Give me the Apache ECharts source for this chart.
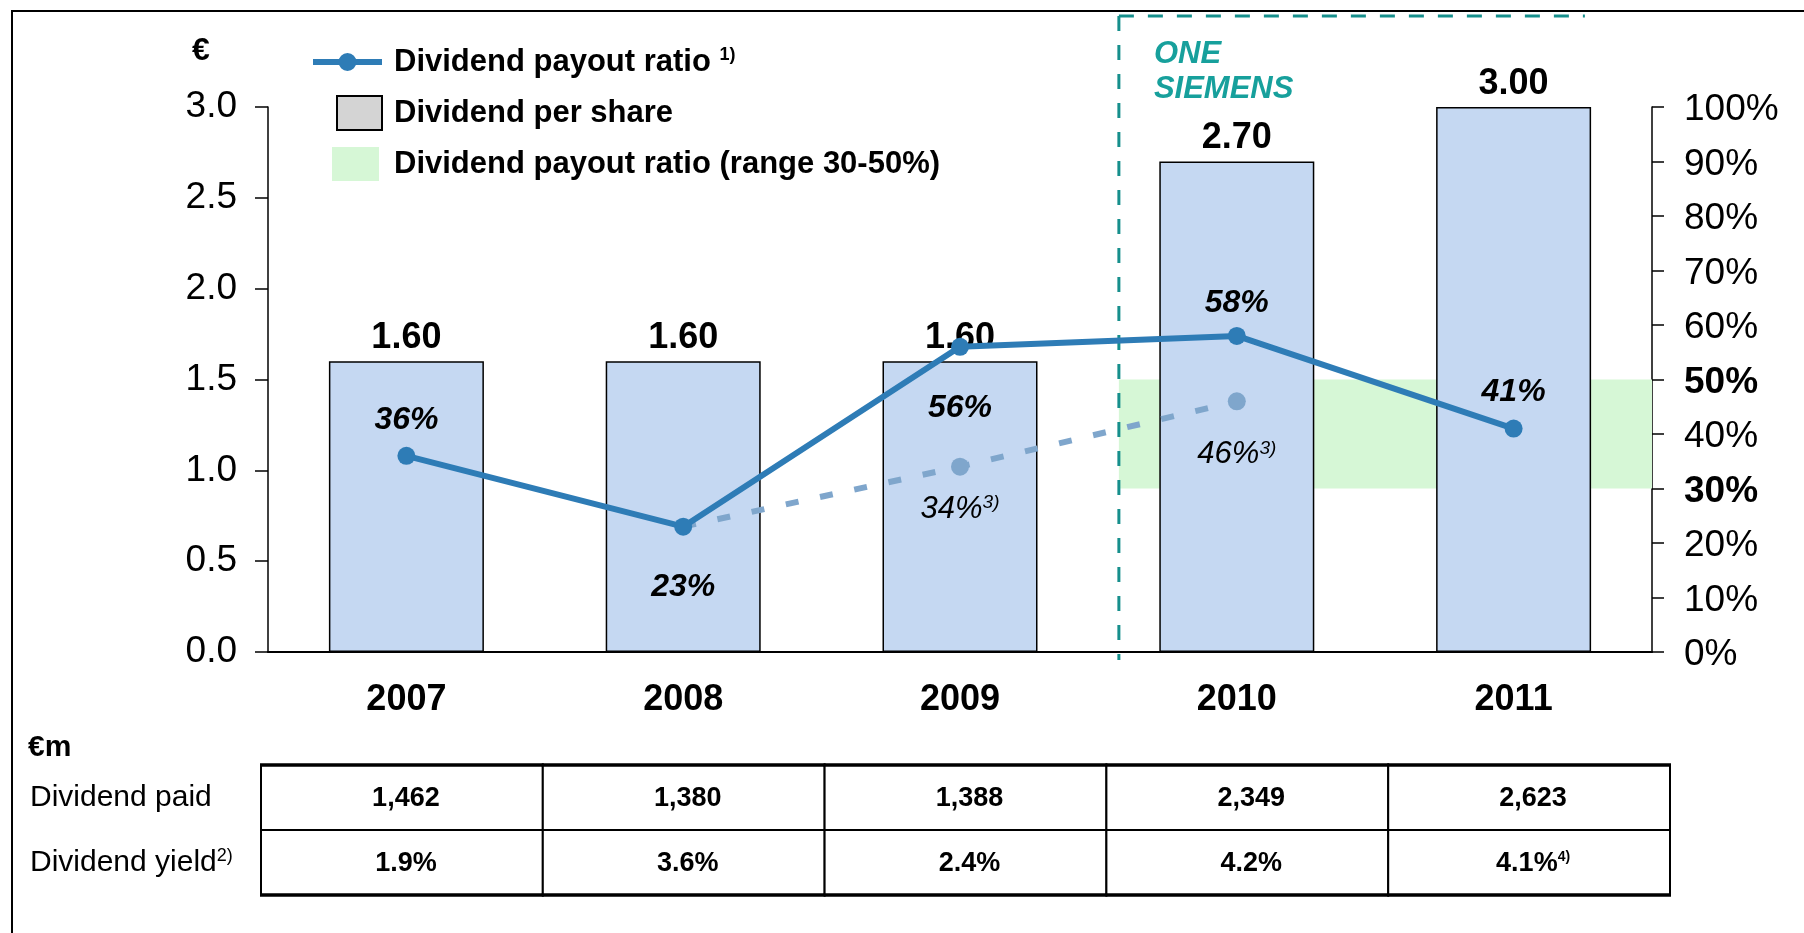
<!DOCTYPE html>
<html>
<head>
<meta charset="utf-8">
<script src="https://cdn.jsdelivr.net/npm/echarts@6/dist/echarts.min.js"></script>
<style>
html,body{margin:0;padding:0;background:#fff;}
#main{width:1804px;height:933px;}
</style>
</head>
<body>
<div id="main"></div>
<script>
// ---------------- data ----------------
const years = ['2007', '2008', '2009', '2010', '2011'];
const dividendPerShare = [1.60, 1.60, 1.60, 2.70, 3.00];
const payoutRatio = [36, 23, 56, 58, 41];
const adjustedPayoutRatio = [null, 23, 34, 46, null];
const adjustedNote = '3)';
const payoutRange = [30, 50];
const oneSiemensStart = 2.574;          // in category-index units
const tableRows = ['Dividend paid', 'Dividend yield'];
const tableRowNotes = ['', '2)'];
const dividendPaid = [1462, 1380, 1388, 2349, 2623];
const dividendYield = [1.9, 3.6, 2.4, 4.2, 4.1];
const yieldNotes = ['', '', '', '', '4)'];
const legendNames = ['Dividend payout ratio', 'Dividend per share', 'Dividend payout ratio (range 30-50%)'];
const legendNotes = ['1)', '', ''];

// ---------------- styles ----------------
const FONT = '"Liberation Sans", Arial, Helvetica, sans-serif';
const C = {
  bar: '#c5d8f2', line: '#2e7cb6', adj: '#7fa6cc', band: '#d6f7d6',
  teal: '#17a09c', tealDash: '#168f8c', legendBox: '#d4d4d4'
};
const payoutLabelPos = ['top', 'bottom', 'bottom', 'top', 'top'];
const payoutLabelDist = [11, 36, 36, 8, 11];
const adjLabelDist = [0, 0, 18, 29, 0];

const fmtThousands = v => v.toLocaleString('en-US');

const payoutData = payoutRatio.map((v, i) => ({
  value: v,
  label: { position: payoutLabelPos[i], distance: payoutLabelDist[i] }
}));

const adjData = adjustedPayoutRatio.map((v, i) => {
  if (v == null) return '-';
  const coincide = v === payoutRatio[i];
  return {
    value: v,
    symbol: coincide ? 'none' : 'circle',
    label: { show: !coincide, distance: adjLabelDist[i] }
  };
});

const tableCells = [];
const tableData = [];
years.forEach((y, c) => {
  tableCells.push({ text: '{v|' + fmtThousands(dividendPaid[c]) + '}' });
  tableData.push([c, 0]);
  tableCells.push({ text: '{v|' + dividendYield[c].toFixed(1) + '%}' + (yieldNotes[c] ? '{n|' + yieldNotes[c] + '}' : '') });
  tableData.push([c, 1]);
});

const legendIcons = [
  'path://M0,0 M76,34 M0,14H69V20H0Z M34.5,8A9,9 0 1 1 34.49,8Z',
  'path://M0,0 M76,34 M24,0H69V34H24Z',
  'path://M0,0 M76,34 M19,0H66V34H19Z'
];
const legendStyles = [
  { color: C.line, borderWidth: 0 },
  { color: C.legendBox, borderColor: '#000', borderWidth: 2 },
  { color: C.band, borderWidth: 0 }
];

const axisBlack = { lineStyle: { color: '#000', width: 1.5 } };

const option = {
  animation: false,
  backgroundColor: '#fff',
  textStyle: { fontFamily: FONT },
  grid: [
    { left: 268, right: 152, top: 107, bottom: 281 },
    { left: 261, right: 134, top: 765, bottom: 38 }
  ],
  legend: {
    orient: 'vertical',
    left: 312, top: 45, padding: 0,
    itemWidth: 76, itemHeight: 34, itemGap: 16,
    selectedMode: false,
    textStyle: {
      fontFamily: FONT, fontSize: 31, fontWeight: 'bold', color: '#000',
      rich: { sup: { fontFamily: FONT, fontSize: 18, fontWeight: 'bold', color: '#000', verticalAlign: 'top' } }
    },
    formatter: name => {
      const i = legendNames.indexOf(name);
      return legendNotes[i] ? name + ' {sup|' + legendNotes[i] + '}' : name;
    },
    data: legendNames.map((n, i) => ({ name: n, icon: legendIcons[i], itemStyle: legendStyles[i] }))
  },
  xAxis: [
    {
      type: 'category', gridIndex: 0, data: years,
      axisLine: { lineStyle: { color: '#000', width: 2 } },
      axisTick: { show: false },
      axisLabel: { fontFamily: FONT, fontSize: 36, fontWeight: 'bold', color: '#000', margin: 30 }
    },
    { type: 'value', gridIndex: 0, min: -0.5, max: 4.5, show: false },
    { type: 'category', gridIndex: 1, data: years, show: false }
  ],
  yAxis: [
    {
      type: 'value', gridIndex: 0, min: 0, max: 3, interval: 0.5,
      axisLine: Object.assign({ show: true, onZero: false }, axisBlack),
      axisTick: Object.assign({ show: true, length: 13 }, axisBlack),
      splitLine: { show: false },
      axisLabel: { fontFamily: FONT, fontSize: 37, color: '#000', margin: 31, padding: [6, 0, 0, 0],
        formatter: v => v.toFixed(1) }
    },
    {
      type: 'value', gridIndex: 0, position: 'right', min: 0, max: 100, interval: 10,
      axisLine: Object.assign({ show: true, onZero: false }, axisBlack),
      axisTick: Object.assign({ show: true, length: 12 }, axisBlack),
      splitLine: { show: false },
      axisLabel: {
        fontFamily: FONT, fontSize: 37, color: '#000', margin: 32, padding: [6, 0, 0, 0],
        formatter: v => payoutRange.includes(v) ? '{b|' + v + '%}' : v + '%',
        rich: { b: { fontFamily: FONT, fontSize: 37, fontWeight: 'bold', color: '#000' } }
      }
    },
    {
      type: 'category', gridIndex: 1, data: tableRows, inverse: true,
      axisLine: { show: false }, axisTick: { show: false },
      axisLabel: {
        fontFamily: FONT, fontSize: 30, color: '#000', align: 'left', margin: 231,
        formatter: (v, i) => tableRowNotes[i] ? v + '{sup|' + tableRowNotes[i] + '}' : v,
        rich: { sup: { fontFamily: FONT, fontSize: 18, color: '#000', verticalAlign: 'top' } }
      }
    }
  ],
  series: [
    {
      name: legendNames[2], type: 'line', xAxisIndex: 1, yAxisIndex: 1, data: [],
      z: 1, silent: true,
      itemStyle: { color: C.band },
      markArea: {
        silent: true,
        itemStyle: { color: C.band },
        data: [[{ xAxis: oneSiemensStart, yAxis: payoutRange[0] }, { xAxis: 4.5, yAxis: payoutRange[1] }]]
      }
    },
    {
      name: legendNames[1], type: 'bar', xAxisIndex: 0, yAxisIndex: 0,
      data: dividendPerShare, barWidth: 155, z: 2,
      itemStyle: { color: C.bar, borderColor: '#000', borderWidth: 1.5 },
      label: {
        show: true, position: 'top', distance: 5,
        formatter: p => p.value.toFixed(2),
        fontFamily: FONT, fontSize: 36, fontWeight: 'bold', color: '#000'
      }
    },
    {
      name: 'Adjusted payout ratio', type: 'line', xAxisIndex: 0, yAxisIndex: 1,
      data: adjData, z: 3, symbol: 'circle', symbolSize: 18, connectNulls: false,
      lineStyle: { color: C.adj, width: 6, type: [13, 22] },
      itemStyle: { color: C.adj, borderWidth: 0 },
      label: {
        show: true, position: 'bottom',
        formatter: p => '{a|' + p.value + '%}{s|' + adjustedNote + '}',
        rich: {
          a: { fontFamily: FONT, fontSize: 31, fontStyle: 'italic', color: '#000' },
          s: { fontFamily: FONT, fontSize: 19, fontStyle: 'italic', color: '#000', verticalAlign: 'top' }
        }
      }
    },
    {
      name: legendNames[0], type: 'line', xAxisIndex: 0, yAxisIndex: 1,
      data: payoutData, z: 4, symbol: 'circle', symbolSize: 18,
      lineStyle: { color: C.line, width: 6 },
      itemStyle: { color: C.line, borderWidth: 0 },
      label: {
        show: true, formatter: p => p.value + '%',
        fontFamily: FONT, fontSize: 32, fontWeight: 'bold', fontStyle: 'italic', color: '#000'
      }
    },
    {
      name: 'table', type: 'custom', xAxisIndex: 2, yAxisIndex: 2,
      data: tableData, encode: { x: 0, y: 1 }, silent: true,
      renderItem: (params, api) => {
        const c = api.value(0), r = api.value(1);
        const ctr = api.coord([c, r]);
        const sz = api.size([1, 1]);
        const x = ctr[0] - sz[0] / 2, y = ctr[1] - sz[1] / 2;
        const children = [
          { type: 'rect', shape: { x: x, y: y, width: sz[0], height: sz[1] },
            style: { fill: '#fff', stroke: '#000', lineWidth: 2 } },
          { type: 'text', x: ctr[0] + 4, y: ctr[1] + 1,
            style: {
              text: tableCells[params.dataIndex].text,
              align: 'center', verticalAlign: 'middle', textAlign: 'center', textVerticalAlign: 'middle',
              fill: '#000',
              rich: {
                v: { fontFamily: FONT, fontSize: 27, fontWeight: 'bold', color: '#000' },
                n: { fontFamily: FONT, fontSize: 14, fontWeight: 'bold', color: '#000', verticalAlign: 'top' }
              }
            } }
        ];
        const edgeY = r === 0 ? y : y + sz[1];
        children.push({ type: 'line', shape: { x1: x - 1, y1: edgeY, x2: x + sz[0] + 1, y2: edgeY },
          style: { stroke: '#000', lineWidth: 3.5 } });
        return { type: 'group', children: children };
      }
    }
  ],
  graphic: {
    elements: [
      { id: 'frame', type: 'polyline', z: 0,
        shape: { points: [[12, 933], [12, 11], [1804, 11]] },
        style: { stroke: '#000', lineWidth: 2, fill: null } },
      { id: 'euro', type: 'text', x: 192, y: 51,
        style: { text: '€', font: 'bold 32px ' + FONT, fill: '#000',
          align: 'left', verticalAlign: 'middle', textAlign: 'left', textVerticalAlign: 'middle' } },
      { id: 'euroM', type: 'text', x: 28, y: 748,
        style: { text: '€m', font: 'bold 30px ' + FONT, fill: '#000',
          align: 'left', verticalAlign: 'middle', textAlign: 'left', textVerticalAlign: 'middle' } }
    ]
  }
};

const chart = echarts.init(document.getElementById('main'), null, { renderer: 'canvas' });
chart.setOption(option);

// ONE SIEMENS frame anchored to the axis scale
const xLine = chart.convertToPixel({ xAxisIndex: 1 }, oneSiemensStart);
const yZero = chart.convertToPixel({ yAxisIndex: 0 }, 0);
const dash = { stroke: C.tealDash, lineWidth: 3, lineDash: [15, 14], fill: null };
chart.setOption({
  graphic: {
    elements: [
      { id: 'osV', type: 'line', z: 2, shape: { x1: xLine, y1: 16, x2: xLine, y2: yZero + 8 }, style: dash },
      { id: 'osH', type: 'line', z: 2, shape: { x1: xLine, y1: 16, x2: xLine + 466, y2: 16 }, style: dash },
      { id: 'os1', type: 'text', z: 2, x: xLine + 35, y: 54,
        style: { text: 'ONE', font: 'italic bold 31px ' + FONT, fill: C.teal,
          align: 'left', verticalAlign: 'middle', textAlign: 'left', textVerticalAlign: 'middle' } },
      { id: 'os2', type: 'text', z: 2, x: xLine + 35, y: 89,
        style: { text: 'SIEMENS', font: 'italic bold 31px ' + FONT, fill: C.teal,
          align: 'left', verticalAlign: 'middle', textAlign: 'left', textVerticalAlign: 'middle' } }
    ]
  }
});
</script>
</body>
</html>
